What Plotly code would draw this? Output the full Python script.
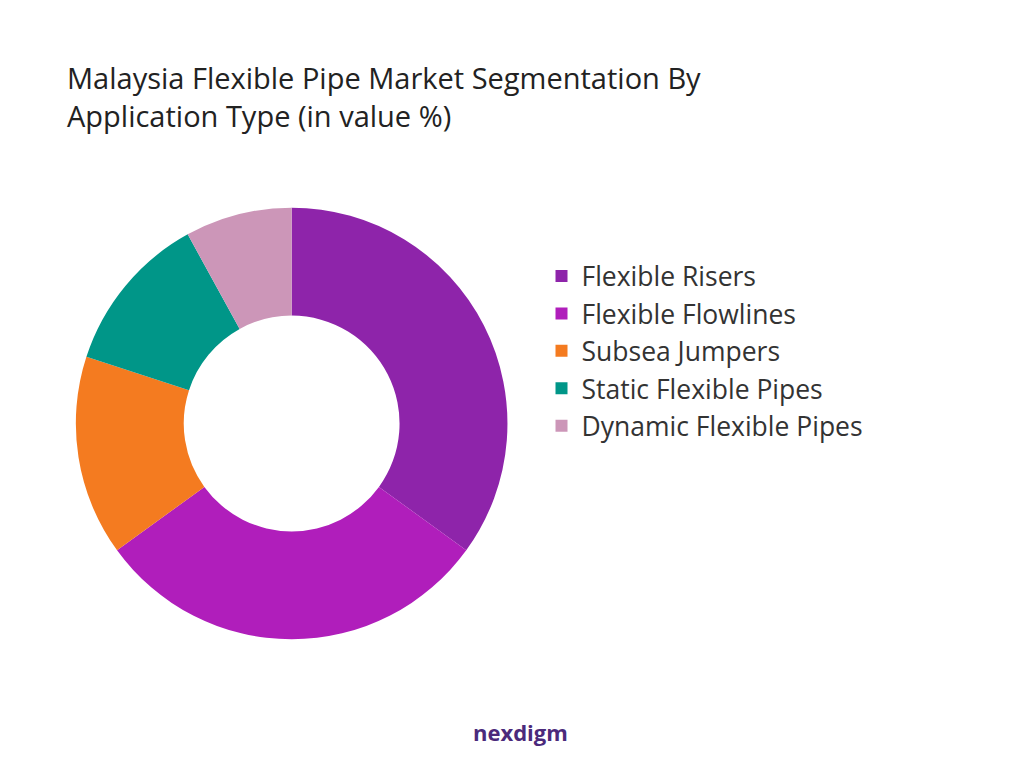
import plotly.graph_objects as go

# ── Data ──────────────────────────────────────────────────────────────────────
SEGMENTS = ["Flexible Risers", "Flexible Flowlines", "Subsea Jumpers",
            "Static Flexible Pipes", "Dynamic Flexible Pipes"]
SHARES = [35, 30, 15, 12, 8]
COLOURS = ["#8E24AA", "#B01EBB", "#F47B20", "#009688", "#CC96B8"]

fig = go.Figure()
fig.add_trace(go.Pie(
    labels=SEGMENTS,
    values=SHARES,
    hole=0.5,
    sort=False,
    direction="clockwise",
    rotation=0,
    marker=dict(colors=COLOURS),
    textinfo="none",
    hoverinfo="label+percent",
    domain=dict(x=[0.066, 0.488], y=[0.178, 0.740]),
))

fig.update_layout(
    width=1024, height=768,
    paper_bgcolor="white", plot_bgcolor="white",
    font=dict(family="Open Sans, sans-serif", color="#222"),
    margin=dict(l=0, r=0, t=0, b=0),
    showlegend=True,
    legend=dict(
        x=0.521, y=0.682, xanchor="left", yanchor="top",
        font=dict(size=26.5, color="#333"),
        itemwidth=30, tracegroupgap=0,
    ),
    annotations=[
        dict(text="Malaysia Flexible Pipe Market Segmentation By<br>Application Type (in value %)",
             xref="paper", yref="paper", x=0.056, y=0.937, xanchor="left", yanchor="top",
             showarrow=False, align="left", font=dict(size=29, color="#222")),
        dict(text="<b>nexdigm</b>",
             xref="paper", yref="paper", x=0.5, y=0.035, xanchor="center", yanchor="bottom",
             showarrow=False, font=dict(size=22, color="#4B2A7B")),
    ],
)

fig.write_html("out.html")
